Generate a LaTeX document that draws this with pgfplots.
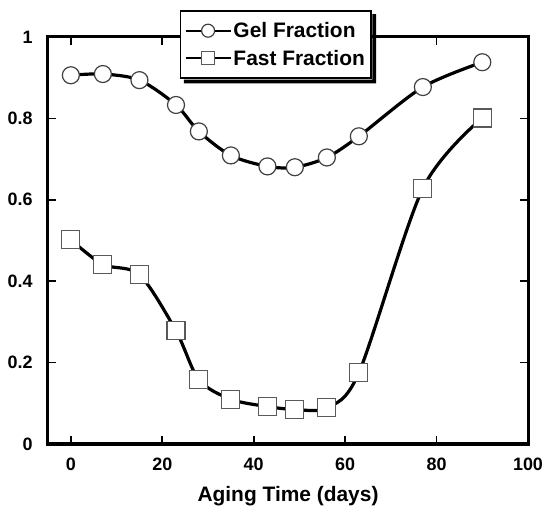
\documentclass[border=0pt]{standalone}
\usepackage{fontspec}
\setmainfont{Liberation Sans}
\usepackage{pgfplots}
\pgfplotsset{compat=1.18}
\pgfplotstableread{
x y
0 0.906
7 0.909
15 0.894
23 0.833
28 0.768
35 0.709
43 0.682
49 0.680
56 0.704
63 0.756
77 0.877
90 0.938
}\gel
\pgfplotstableread{
x y
0 0.502
7 0.441
15 0.416
23 0.278
28 0.158
35 0.110
43 0.092
49 0.085
56 0.089
63 0.175
77 0.628
90 0.801
}\fast
\begin{document}
\begin{tikzpicture}
\begin{axis}[
  scale only axis,
  width=480bp, height=407bp,
  xmin=-5, xmax=100, ymin=0, ymax=1,
  xtick={0,20,40,60,80,100},
  ytick={0,0.2,0.4,0.6,0.8,1},
  yticklabels={0,0.2,0.4,0.6,0.8,1},
  tick align=inside,
  tick pos=both,
  major tick length=8bp,
  tick style={line width=1.6bp, black},
  axis line style={line width=3bp},
  /pgf/number format/assume math mode=true,
  ticklabel style={font=\bfseries\fontsize{18}{18}\selectfont},
  xticklabel style={yshift=-10bp},
  yticklabel style={xshift=-12bp},
  xlabel={Aging Time (days)},
  xlabel style={font=\bfseries\fontsize{21}{21}\selectfont, yshift=-9bp},
  legend style={name=leg, at={(0.4745,1.066)}, anchor=north, draw=black, line width=1.5bp,
    font=\bfseries\fontsize{21}{21}\selectfont,
    fill=white, inner xsep=4bp, inner ysep=6bp,
    /tikz/every even column/.append style={column sep=4bp},
    nodes={inner ysep=5.5bp}},
  legend cell align=left,
  legend image code/.code={
    \draw[black, line width=1.8bp, line cap=butt] (0bp,0bp) -- (45bp,0bp);
    \draw[#1, mark size=6.5bp] plot coordinates {(22.5bp,0bp)};
  },
]
\coordinate (A) at (rel axis cs:0,0);
\coordinate (B) at (rel axis cs:1,1);
\addplot[black, line width=3.2bp, smooth, no marks, forget plot, line join=round] table {\gel};
\addplot[black, line width=3.2bp, smooth, no marks, forget plot, line join=round] table {\fast};
\addplot[only marks, mark=*, mark size=8.5bp,
  mark options={solid, fill=white, draw=black!75, line width=1.2bp}] table {\gel};
\addlegendentry{Gel Fraction}
\addplot[only marks, mark=square*, mark size=9bp,
  mark options={solid, fill=white, draw=black!65, line width=1.2bp}] table {\fast};
\addlegendentry{Fast Fraction}
\end{axis}
\fill[black] ([shift={(0.7bp,-4bp)}]leg.north east) -- ([shift={(4.5bp,-4bp)}]leg.north east)
  -- ([shift={(4.5bp,-4.5bp)}]leg.south east) -- ([shift={(4bp,-4.5bp)}]leg.south west)
  -- ([shift={(4bp,-0.7bp)}]leg.south west) -- ([shift={(0.7bp,-0.7bp)}]leg.south east) -- cycle;
\pgfresetboundingbox
\path[use as bounding box] ([shift={(-48bp,-62bp)}]A) rectangle ([shift={(16bp,37bp)}]B);
\end{tikzpicture}
\end{document}
